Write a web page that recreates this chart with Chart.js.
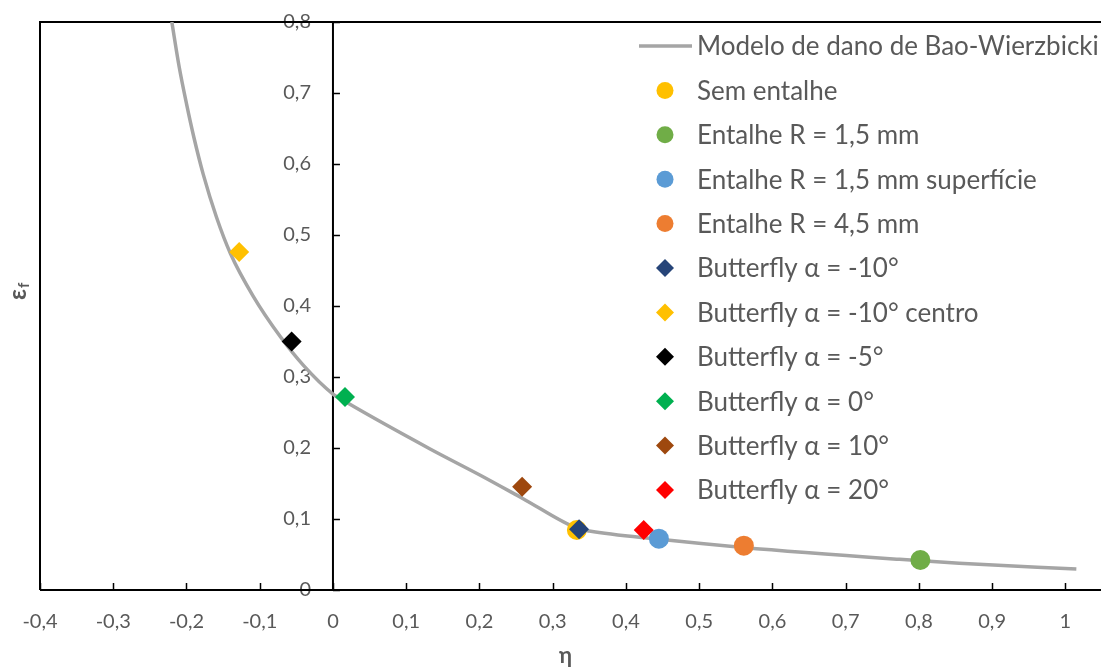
<!DOCTYPE html>
<html>
<head>
<meta charset="utf-8">
<script src="https://cdn.jsdelivr.net/npm/chart.js@4.4.1/dist/chart.umd.min.js"></script>
<style>
  html, body { margin: 0; padding: 0; background: #fff; overflow: hidden; }
</style>
</head>
<body>
<canvas id="grafico" width="1101" height="669"></canvas>
<script>
// curva do modelo
const modeloEta = [-0.22, -0.21, -0.20, -0.19, -0.177, -0.159, -0.14, -0.109, -0.072, -0.04, 0, 0.019, 0.132, 0.2005, 0.259, 0.333, 0.35, 0.446, 0.56, 0.7735, 0.855, 1.015];
const modeloEps = [0.80, 0.737, 0.685, 0.638, 0.585, 0.525, 0.474, 0.414, 0.357, 0.316, 0.276, 0.264, 0.199, 0.162, 0.129, 0.087, 0.083, 0.0714, 0.060, 0.0432, 0.0376, 0.0296];

// ensaios
const nomes = ['Sem entalhe', 'Entalhe R = 1,5 mm', 'Entalhe R = 1,5 mm superfície', 'Entalhe R = 4,5 mm',
  'Butterfly α = -10°', 'Butterfly α = -10° centro', 'Butterfly α = -5°', 'Butterfly α = 0°',
  'Butterfly α = 10°', 'Butterfly α = 20°'];
const etaPts = [0.333, 0.802, 0.445, 0.561, 0.336, -0.128, -0.0564, 0.0164, 0.2583, 0.4243];
const epsPts = [0.0845, 0.0423, 0.0723, 0.0624, 0.0855, 0.476, 0.350, 0.272, 0.1455, 0.0845];

const cores = ['#FFC000', '#70AD47', '#5B9BD5', '#ED7D31', '#264478', '#FFC000', '#000000', '#00B050', '#9E480E', '#FF0000'];
const formas = ['circle', 'circle', 'circle', 'circle', 'rectRot', 'rectRot', 'rectRot', 'rectRot', 'rectRot', 'rectRot'];

const xTicks = [-0.4, -0.3, -0.2, -0.1, 0, 0.1, 0.2, 0.3, 0.4, 0.5, 0.6, 0.7, 0.8, 0.9, 1];
const yTicks = [0, 0.1, 0.2, 0.3, 0.4, 0.5, 0.6, 0.7, 0.8];

const txt = '#595959';
const fonte = 'Lato';
const virgula = v => Number(Number(v).toFixed(1)).toString().replace('.', ',');

const datasets = [{
    label: 'Modelo de dano de Bao-Wierzbicki',
    data: modeloEta.map((x, i) => ({x: x, y: modeloEps[i]})),
    showLine: true,
    borderColor: '#A5A5A5',
    borderWidth: 3.5,
    pointRadius: 0,
    cubicInterpolationMode: 'monotone',
    order: 100
}];
nomes.forEach((n, i) => {
    datasets.push({
        label: n,
        data: [{x: etaPts[i], y: epsPts[i]}],
        pointStyle: formas[i],
        pointRadius: 10,
        backgroundColor: cores[i],
        borderColor: cores[i],
        borderWidth: 0,
        order: formas[i] == 'circle' ? 50 : 10
    });
});

// moldura, eixos e marcas de escala
const eixos = {
    id: 'eixos',
    beforeDatasetsDraw(chart) {
        const {ctx, chartArea: a, scales: {x, y}} = chart;
        const x0 = x.getPixelForValue(0);
        const y0 = y.getPixelForValue(0);
        ctx.save();
        ctx.strokeStyle = '#000';
        ctx.lineWidth = 2;
        ctx.beginPath();
        ctx.moveTo(a.left, y0); ctx.lineTo(a.left, a.top); ctx.lineTo(a.right + 15, a.top);
        ctx.moveTo(a.left, y0); ctx.lineTo(a.right + 15, y0);
        ctx.moveTo(x0, y0); ctx.lineTo(x0, a.top);
        ctx.stroke();
        ctx.lineWidth = 1.5;
        ctx.beginPath();
        xTicks.forEach(v => {
            const px = Math.round(x.getPixelForValue(v)) + 0.5;
            ctx.moveTo(px, y0); ctx.lineTo(px, y0 - 7);
        });
        yTicks.forEach(v => {
            const py = Math.round(y.getPixelForValue(v)) + 0.5;
            ctx.moveTo(x0, py); ctx.lineTo(x0 + 7, py);
        });
        ctx.stroke();
        ctx.restore();
    },
    afterDraw(chart) {
        const {ctx} = chart;
        ctx.save();
        // titulo do eixo y
        ctx.translate(18, 292);
        ctx.rotate(-Math.PI / 2);
        ctx.fillStyle = txt;
        ctx.textBaseline = 'middle';
        ctx.font = 'bold 24px ' + fonte;
        ctx.fillText('ε', -8, 0);
        ctx.font = 'bold 15px ' + fonte;
        ctx.fillText('f', 4, 6);
        ctx.restore();

        // legenda
        ctx.save();
        ctx.textBaseline = 'middle';
        ctx.font = '26px ' + fonte;
        chart.data.datasets.forEach((ds, i) => {
            const ly = 46 + i * 44.4;
            if (i == 0) {
                ctx.strokeStyle = ds.borderColor;
                ctx.lineWidth = 3.5;
                ctx.beginPath();
                ctx.moveTo(639, ly); ctx.lineTo(692, ly);
                ctx.stroke();
            } else {
                ctx.fillStyle = ds.backgroundColor;
                ctx.beginPath();
                if (ds.pointStyle == 'circle') {
                    ctx.arc(665, ly, 8.5, 0, Math.PI * 2);
                } else {
                    ctx.moveTo(665, ly - 9); ctx.lineTo(674, ly); ctx.lineTo(665, ly + 9); ctx.lineTo(656, ly);
                    ctx.closePath();
                }
                ctx.fill();
            }
            ctx.fillStyle = txt;
            ctx.fillText(ds.label, 697, ly + 1);
        });
        ctx.restore();
    }
};

new Chart(document.getElementById('grafico'), {
    type: 'scatter',
    data: {datasets: datasets},
    options: {
        responsive: false,
        animation: false,
        devicePixelRatio: 1,
        layout: {padding: {left: 40, top: 22, right: 0, bottom: 0}},
        scales: {
            x: {
                type: 'linear',
                min: -0.4,
                max: 1.035,
                afterBuildTicks: s => { s.ticks = xTicks.map(v => ({value: v})); },
                afterFit: s => { s.height = 79; },
                grid: {display: false, drawTicks: false},
                border: {display: false},
                ticks: {
                    color: txt,
                    padding: 20,
                    maxRotation: 0,
                    font: {family: fonte, size: 20},
                    callback: v => virgula(v)
                },
                title: {
                    display: true,
                    text: 'η',
                    color: txt,
                    padding: 0,
                    font: {family: fonte, size: 22, weight: 'bold'}
                }
            },
            y: {
                type: 'linear',
                min: 0,
                max: 0.8,
                position: {x: -0.03},
                afterBuildTicks: s => { s.ticks = yTicks.map(v => ({value: v})); },
                grid: {display: false, drawTicks: false},
                border: {display: false},
                ticks: {
                    color: txt,
                    font: {family: fonte, size: 20},
                    callback: v => virgula(v)
                }
            }
        },
        plugins: {
            legend: {display: false},
            tooltip: {enabled: false}
        }
    },
    plugins: [eixos]
});
</script>
</body>
</html>
